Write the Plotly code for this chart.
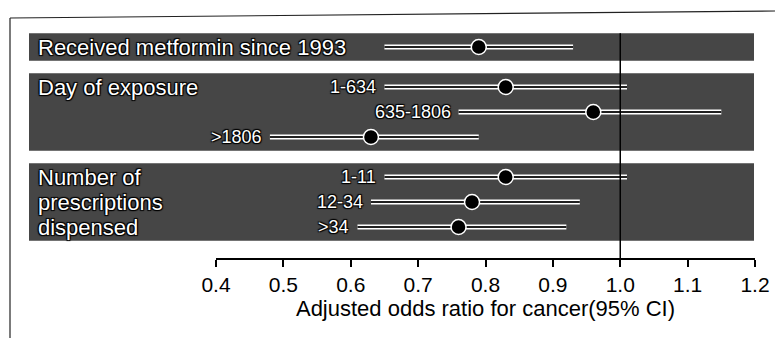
import plotly.graph_objects as go

# ---------------- data ----------------
group_lines = [
    ["Received metformin since 1993"],
    ["Day of exposure"],
    ["Number of", "prescriptions", "dispensed"],
]
row_group = [0, 1, 1, 1, 2, 2, 2]
row_label = ["", "1-634", "635-1806", ">1806", "1-11", "12-34", ">34"]
odds_ratio = [0.79, 0.83, 0.96, 0.63, 0.83, 0.78, 0.76]
ci_low = [0.65, 0.65, 0.76, 0.48, 0.65, 0.63, 0.61]
ci_high = [0.93, 1.01, 1.15, 0.79, 1.01, 0.94, 0.92]
tick_vals = [0.4, 0.5, 0.6, 0.7, 0.8, 0.9, 1.0, 1.1, 1.2]
tick_text = ["0.4", "0.5", "0.6", "0.7", "0.8", "0.9", "1.0", "1.1", "1.2"]
x_title = "Adjusted odds ratio for cancer(95% CI)"

# ---------------- layout helpers ----------------
W, H = 775, 338
ML, MR, MT, MB = 216, 20, 30, 80
PW, PH = W - ML - MR, H - MT - MB
ROW_PX = 25
GAP = 0.6
y_pos = [i + GAP * g for i, g in enumerate(row_group)]
y_top = -(47 - MT) / ROW_PX
y_bot = y_top + PH / ROW_PX


def px_x(px):
    return (px - ML) / PW


def px_y(px):
    return (H - MB - px) / PH


BAND = "#464646"
FONT = "Liberation Sans, Arial, sans-serif"
OUTLINE = "1px 1px 1px #000, -1px -1px 1px #000, 1px -1px 1px #000, -1px 1px 1px #000"

fig = go.Figure()

# CI lines (white halo + dark core)
for yy, lo, hi in zip(y_pos, ci_low, ci_high):
    fig.add_trace(go.Scatter(x=[lo, hi], y=[yy, yy], mode="lines",
                             line=dict(color="white", width=5),
                             hoverinfo="skip", showlegend=False))
    fig.add_trace(go.Scatter(x=[lo, hi], y=[yy, yy], mode="lines",
                             line=dict(color="#202020", width=2),
                             hoverinfo="skip", showlegend=False))

fig.add_trace(go.Scatter(x=odds_ratio, y=y_pos, mode="markers",
                         marker=dict(size=15, color="black",
                                     line=dict(color="white", width=1.5)),
                         showlegend=False))

shapes = []
# group bands
for g in range(len(group_lines)):
    ys = [y for y, gg in zip(y_pos, row_group) if gg == g]
    shapes.append(dict(type="rect", xref="paper", yref="y",
                       x0=px_x(29), x1=px_x(754),
                       y0=min(ys) - 0.55, y1=max(ys) + 0.55,
                       fillcolor=BAND, line=dict(width=0), layer="below"))
# reference line at OR = 1
shapes.append(dict(type="line", xref="x", yref="y", x0=1.0, x1=1.0,
                   y0=-0.55, y1=y_bot, line=dict(color="black", width=1.5)))
# outer frame (scan border)
shapes.append(dict(type="line", xref="paper", yref="paper",
                   x0=px_x(10), y0=px_y(18), x1=px_x(10), y1=px_y(340),
                   line=dict(color="#222", width=1.2)))
shapes.append(dict(type="line", xref="paper", yref="paper",
                   x0=px_x(10), y0=px_y(18), x1=px_x(776), y1=px_y(11),
                   line=dict(color="#222", width=1.2)))

annotations = []
for g, lines in enumerate(group_lines):
    ys = [y for y, gg in zip(y_pos, row_group) if gg == g]
    for k, txt in enumerate(lines):
        annotations.append(dict(text=txt, xref="paper", yref="y",
                                x=px_x(36), y=ys[k], xanchor="left",
                                yanchor="middle", showarrow=False,
                                font=dict(family=FONT, size=22, color="white",
                                          shadow=OUTLINE)))
for yy, lo, lab in zip(y_pos, ci_low, row_label):
    if lab:
        annotations.append(dict(text=lab, xref="x", yref="y", x=lo, y=yy,
                                xanchor="right", yanchor="middle", xshift=-6,
                                showarrow=False,
                                font=dict(family=FONT, size=18, color="white",
                                          shadow=OUTLINE)))

fig.update_layout(
    width=W, height=H,
    margin=dict(l=ML, r=MR, t=MT, b=MB, autoexpand=False),
    paper_bgcolor="white", plot_bgcolor="rgba(0,0,0,0)",
    shapes=shapes, annotations=annotations,
    font=dict(family=FONT, color="black"),
    xaxis=dict(range=[0.4, 1.2], tickvals=tick_vals, ticktext=tick_text,
               automargin=False,
               showgrid=False, zeroline=False, showline=True,
               linecolor="black", linewidth=1.5, ticks="outside",
               ticklen=7, tickwidth=1.5, tickcolor="black",
               tickfont=dict(size=21, family=FONT, color="black"),
               title=dict(text=x_title, font=dict(size=22, family=FONT),
                          standoff=4)),
    yaxis=dict(range=[y_bot, y_top], visible=False),
)

fig.write_html("out.html", config={"displayModeBar": False},
               post_script="document.body.style.margin='0px';")
